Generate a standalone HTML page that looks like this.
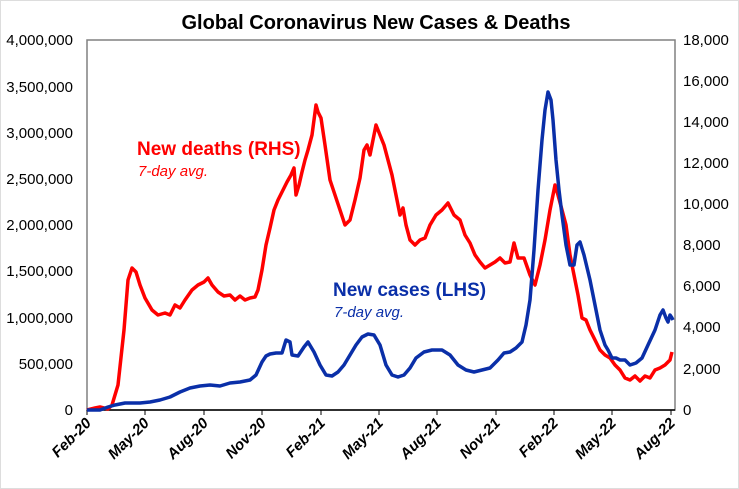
<!DOCTYPE html><html><head><style>body{margin:0;background:#fff}svg{display:block}text{font-family:"Liberation Sans",Arial,sans-serif}</style></head><body>
<svg width="739" height="489" viewBox="0 0 739 489">
<rect x="0.5" y="0.5" width="738" height="488" fill="#fff" stroke="#ddd"/>
<text x="376" y="29" font-size="20" font-weight="bold" text-anchor="middle" fill="#000">Global Coronavirus New Cases &amp; Deaths</text>
<rect x="87" y="40" width="588" height="370" fill="none" stroke="#808080" stroke-width="1.5"/>
<g font-size="15" fill="#000" text-anchor="end">
<text x="73" y="45">4,000,000</text><text x="73" y="92">3,500,000</text><text x="73" y="138">3,000,000</text><text x="73" y="184">2,500,000</text><text x="73" y="230">2,000,000</text><text x="73" y="276">1,500,000</text><text x="73" y="323">1,000,000</text><text x="73" y="369">500,000</text><text x="73" y="415">0</text>
</g>
<g font-size="15" fill="#000" text-anchor="start">
<text x="683" y="45">18,000</text><text x="683" y="86">16,000</text><text x="683" y="127">14,000</text><text x="683" y="168">12,000</text><text x="683" y="209">10,000</text><text x="683" y="250">8,000</text><text x="683" y="291">6,000</text><text x="683" y="332">4,000</text><text x="683" y="374">2,000</text><text x="683" y="415">0</text>
</g>
<line x1="87" y1="410" x2="675" y2="410" stroke="#000" stroke-width="1.5"/>
<g stroke="#000" stroke-width="1"><line x1="87" y1="410" x2="87" y2="415"/><line x1="145" y1="410" x2="145" y2="415"/><line x1="204" y1="410" x2="204" y2="415"/><line x1="262" y1="410" x2="262" y2="415"/><line x1="321" y1="410" x2="321" y2="415"/><line x1="379" y1="410" x2="379" y2="415"/><line x1="437" y1="410" x2="437" y2="415"/><line x1="496" y1="410" x2="496" y2="415"/><line x1="554" y1="410" x2="554" y2="415"/><line x1="612" y1="410" x2="612" y2="415"/><line x1="671" y1="410" x2="671" y2="415"/></g>
<g font-size="15" font-weight="bold" font-style="italic" fill="#000" text-anchor="end">
<text transform="translate(92,424) rotate(-45)">Feb-20</text>
<text transform="translate(150,424) rotate(-45)">May-20</text>
<text transform="translate(209,424) rotate(-45)">Aug-20</text>
<text transform="translate(267,424) rotate(-45)">Nov-20</text>
<text transform="translate(326,424) rotate(-45)">Feb-21</text>
<text transform="translate(384,424) rotate(-45)">May-21</text>
<text transform="translate(442,424) rotate(-45)">Aug-21</text>
<text transform="translate(501,424) rotate(-45)">Nov-21</text>
<text transform="translate(559,424) rotate(-45)">Feb-22</text>
<text transform="translate(617,424) rotate(-45)">May-22</text>
<text transform="translate(676,424) rotate(-45)">Aug-22</text>
</g>
<polyline fill="none" stroke="#ff0000" stroke-width="3.5" stroke-linejoin="round" points="87,410 95,408 100,407 108,409 112,405 118,385 124,330 128,280 132,268 136,272 140,285 145,298 152,310 158,315 165,313 170,315 175,305 180,308 185,300 192,290 198,285 204,282 208,278 212,285 218,292 224,296 230,295 235,300 240,296 245,300 250,298 255,297 258,290 262,270 266,245 270,228 274,210 278,200 283,190 287,182 291,175 294,168 296,195 299,185 302,172 305,160 308,150 312,135 316,105 318,112 321,118 325,145 330,180 335,195 340,210 345,225 350,220 355,200 360,178 364,150 367,145 370,155 373,140 376,125 380,135 384,145 388,160 392,175 396,195 400,215 403,208 406,225 410,240 415,245 420,240 425,238 430,225 436,215 442,210 448,203 454,215 460,220 465,235 470,243 475,255 480,262 485,268 490,265 495,262 500,258 505,263 510,262 514,243 518,258 524,258 530,275 535,285 540,265 545,240 550,210 555,185 558,195 562,210 566,225 570,255 574,275 578,295 582,318 586,320 590,330 595,340 600,350 605,355 610,358 615,365 620,370 625,378 630,380 635,376 640,381 645,376 650,378 655,370 660,368 665,365 670,360 672,352"/>
<polyline fill="none" stroke="#0a2fa8" stroke-width="3.5" stroke-linejoin="round" points="87,410 100,410 108,407 115,405 125,403 140,403 150,402 160,400 170,397 180,392 190,388 200,386 210,385 220,386 230,383 240,382 250,380 256,375 262,362 266,356 270,354 276,353 282,353 286,340 290,342 292,355 298,356 304,347 308,342 314,352 320,365 326,375 332,376 338,372 344,365 350,355 356,345 362,337 368,334 374,335 380,345 386,365 392,375 398,377 404,375 410,368 416,358 424,352 432,350 442,350 450,355 458,365 466,370 474,372 482,370 490,368 498,360 504,353 510,352 516,348 522,342 526,325 530,300 534,250 538,190 542,140 545,110 548,92 551,100 553,120 556,160 559,190 562,215 566,245 570,265 574,265 577,245 580,242 584,255 590,280 595,305 600,330 605,345 608,350 612,358 616,358 620,360 625,360 630,365 636,363 642,358 648,345 655,330 660,315 663,310 666,318 668,322 670,315 672,318 673,320"/>
<text x="137" y="155" font-size="19" font-weight="bold" fill="#ff0000">New deaths (RHS)</text>
<text x="138" y="176" font-size="15" font-style="italic" fill="#ff0000">7-day avg.</text>
<text x="333" y="296" font-size="19" font-weight="bold" fill="#0a2fa8">New cases (LHS)</text>
<text x="334" y="317" font-size="15" font-style="italic" fill="#0a2fa8">7-day avg.</text>
</svg></body></html>
